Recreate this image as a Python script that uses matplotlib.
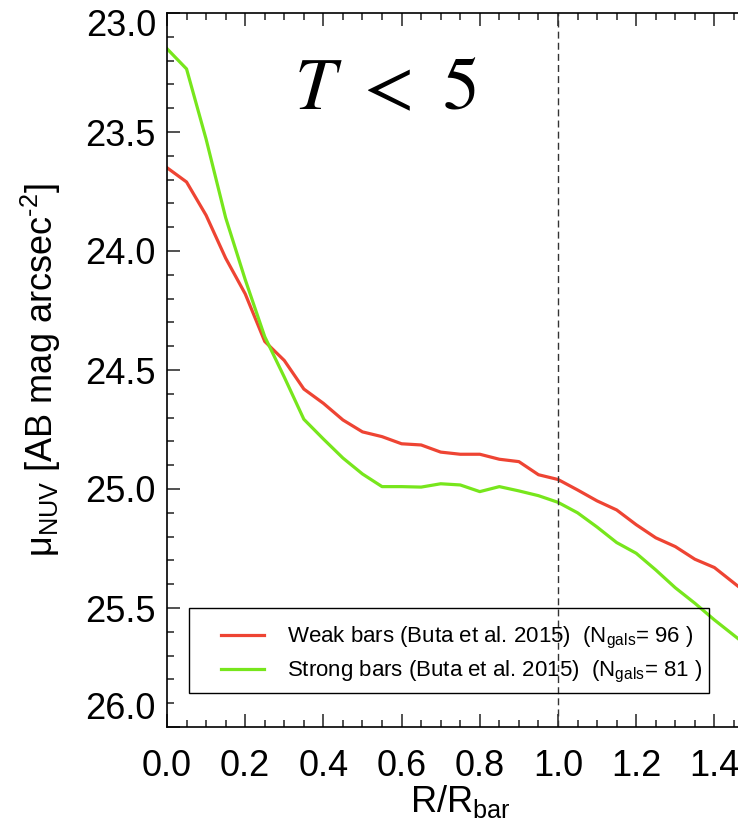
"""NUV surface brightness profiles, weak vs strong bars (T < 5)."""

import matplotlib
matplotlib.use("Agg")
import matplotlib.pyplot as plt
from matplotlib.patches import Rectangle
from matplotlib.ticker import MultipleLocator, FormatStrFormatter, FuncFormatter

plt.rcParams["font.family"] = ["Liberation Sans", "DejaVu Sans"]
plt.rcParams["mathtext.fontset"] = "custom"
plt.rcParams["mathtext.rm"] = "Liberation Sans"
plt.rcParams["mathtext.it"] = "Liberation Sans:italic"
plt.rcParams["mathtext.bf"] = "Liberation Sans:bold"

# radius in units of bar length
r_rbar = [0.00, 0.05, 0.10, 0.15, 0.20, 0.25, 0.30, 0.35, 0.40, 0.45,
          0.50, 0.55, 0.60, 0.65, 0.70, 0.75, 0.80, 0.85, 0.90, 0.95,
          1.00, 1.05, 1.10, 1.15, 1.20, 1.25, 1.30, 1.35, 1.40, 1.45, 1.50]

mu_weak = [23.65, 23.71, 23.85, 24.03, 24.18, 24.38, 24.46, 24.58, 24.64, 24.71,
           24.76, 24.78, 24.81, 24.815, 24.845, 24.854, 24.854, 24.875, 24.885, 24.94,
           24.96, 25.004, 25.05, 25.088, 25.15, 25.205, 25.242, 25.295, 25.33, 25.395, 25.46]

mu_strong = [23.15, 23.235, 23.53, 23.86, 24.12, 24.36, 24.53, 24.707, 24.79, 24.87,
             24.937, 24.99, 24.99, 24.992, 24.978, 24.983, 25.011, 24.99, 25.008, 25.028,
             25.056, 25.10, 25.16, 25.225, 25.27, 25.34, 25.415, 25.48, 25.55, 25.615, 25.68]

y_min, y_max = 23.0, 26.0

label_weak = r"Weak bars (Buta et al. 2015)  (N$_{\rm gals}$= 96 )"
label_strong = r"Strong bars (Buta et al. 2015)  (N$_{\rm gals}$= 81 )"

W, H = 738, 825
fig = plt.figure(figsize=(W / 100, H / 100), dpi=100)
ax = fig.add_axes([167 / W, 1 - 727 / H, 1.5 * 391 / W, 714 / H])

ax.plot(r_rbar, mu_weak, color="#ee4433", linewidth=2.3, label=label_weak)
ax.plot(r_rbar, mu_strong, color="#77e61c", linewidth=2.3, label=label_strong)
ax.axvline(1.0, color="#333333", linewidth=1.0, linestyle=(0, (5, 3)))

ax.set_xlim(0, 1.5)
ax.set_ylim(y_max, y_min)

ax.xaxis.set_major_locator(MultipleLocator(0.2))
ax.xaxis.set_minor_locator(MultipleLocator(0.05))
ax.yaxis.set_major_locator(MultipleLocator(0.5))
ax.yaxis.set_minor_locator(MultipleLocator(0.1))
ax.xaxis.set_major_formatter(FormatStrFormatter("%.1f"))
# end labels are pulled inside the axis range, drawn below
ax.yaxis.set_major_formatter(FuncFormatter(
    lambda v, pos: "" if abs(v - y_min) < 1e-6 or abs(v - y_max) < 1e-6 else f"{v:.1f}"))

ax.tick_params(which="both", direction="in", top=True, right=True, width=1.1, color="#222222")
ax.tick_params(which="major", length=9.5, labelsize=26)
ax.tick_params(which="minor", length=4.7)
ax.tick_params(axis="x", which="major", pad=16)
ax.tick_params(axis="y", which="major", pad=8)
for sp in ax.spines.values():
    sp.set_linewidth(1.2)

for val, va, dy in [(y_min, "top", 3), (y_max, "bottom", 0)]:
    ax.annotate(f"{val:.1f}", xy=(0, val), xycoords=("axes fraction", "data"),
                xytext=(-8, dy), textcoords="offset points", ha="right", va=va, fontsize=26)

ax.set_xlabel(r"R/R$_{\rm bar}$", fontsize=26, labelpad=-1)
ax.set_ylabel(r"μ$_{\rm NUV}$ [AB mag arcsec$^{\text{-}2}$]", fontsize=26, labelpad=16)

fig.text(385 / W, 1 - 90 / H, r"$T\ <\ 5$", fontsize=53, math_fontfamily="stix",
         ha="center", va="center")

# legend box (transparent, lines show through)
fig.patches.append(Rectangle((189 / W, 1 - 693 / H), 520 / W, 85 / H, transform=fig.transFigure,
                             fill=False, edgecolor="black", linewidth=1.0, zorder=5))
ax.legend(loc="upper left", bbox_to_anchor=(221 / W, 1 - 625 / H),
          bbox_transform=fig.transFigure, borderaxespad=0, borderpad=0, fontsize=16,
          frameon=False, handlelength=1.95, handletextpad=1.0, labelspacing=0.36)

fig.savefig("out.png", dpi=100)
